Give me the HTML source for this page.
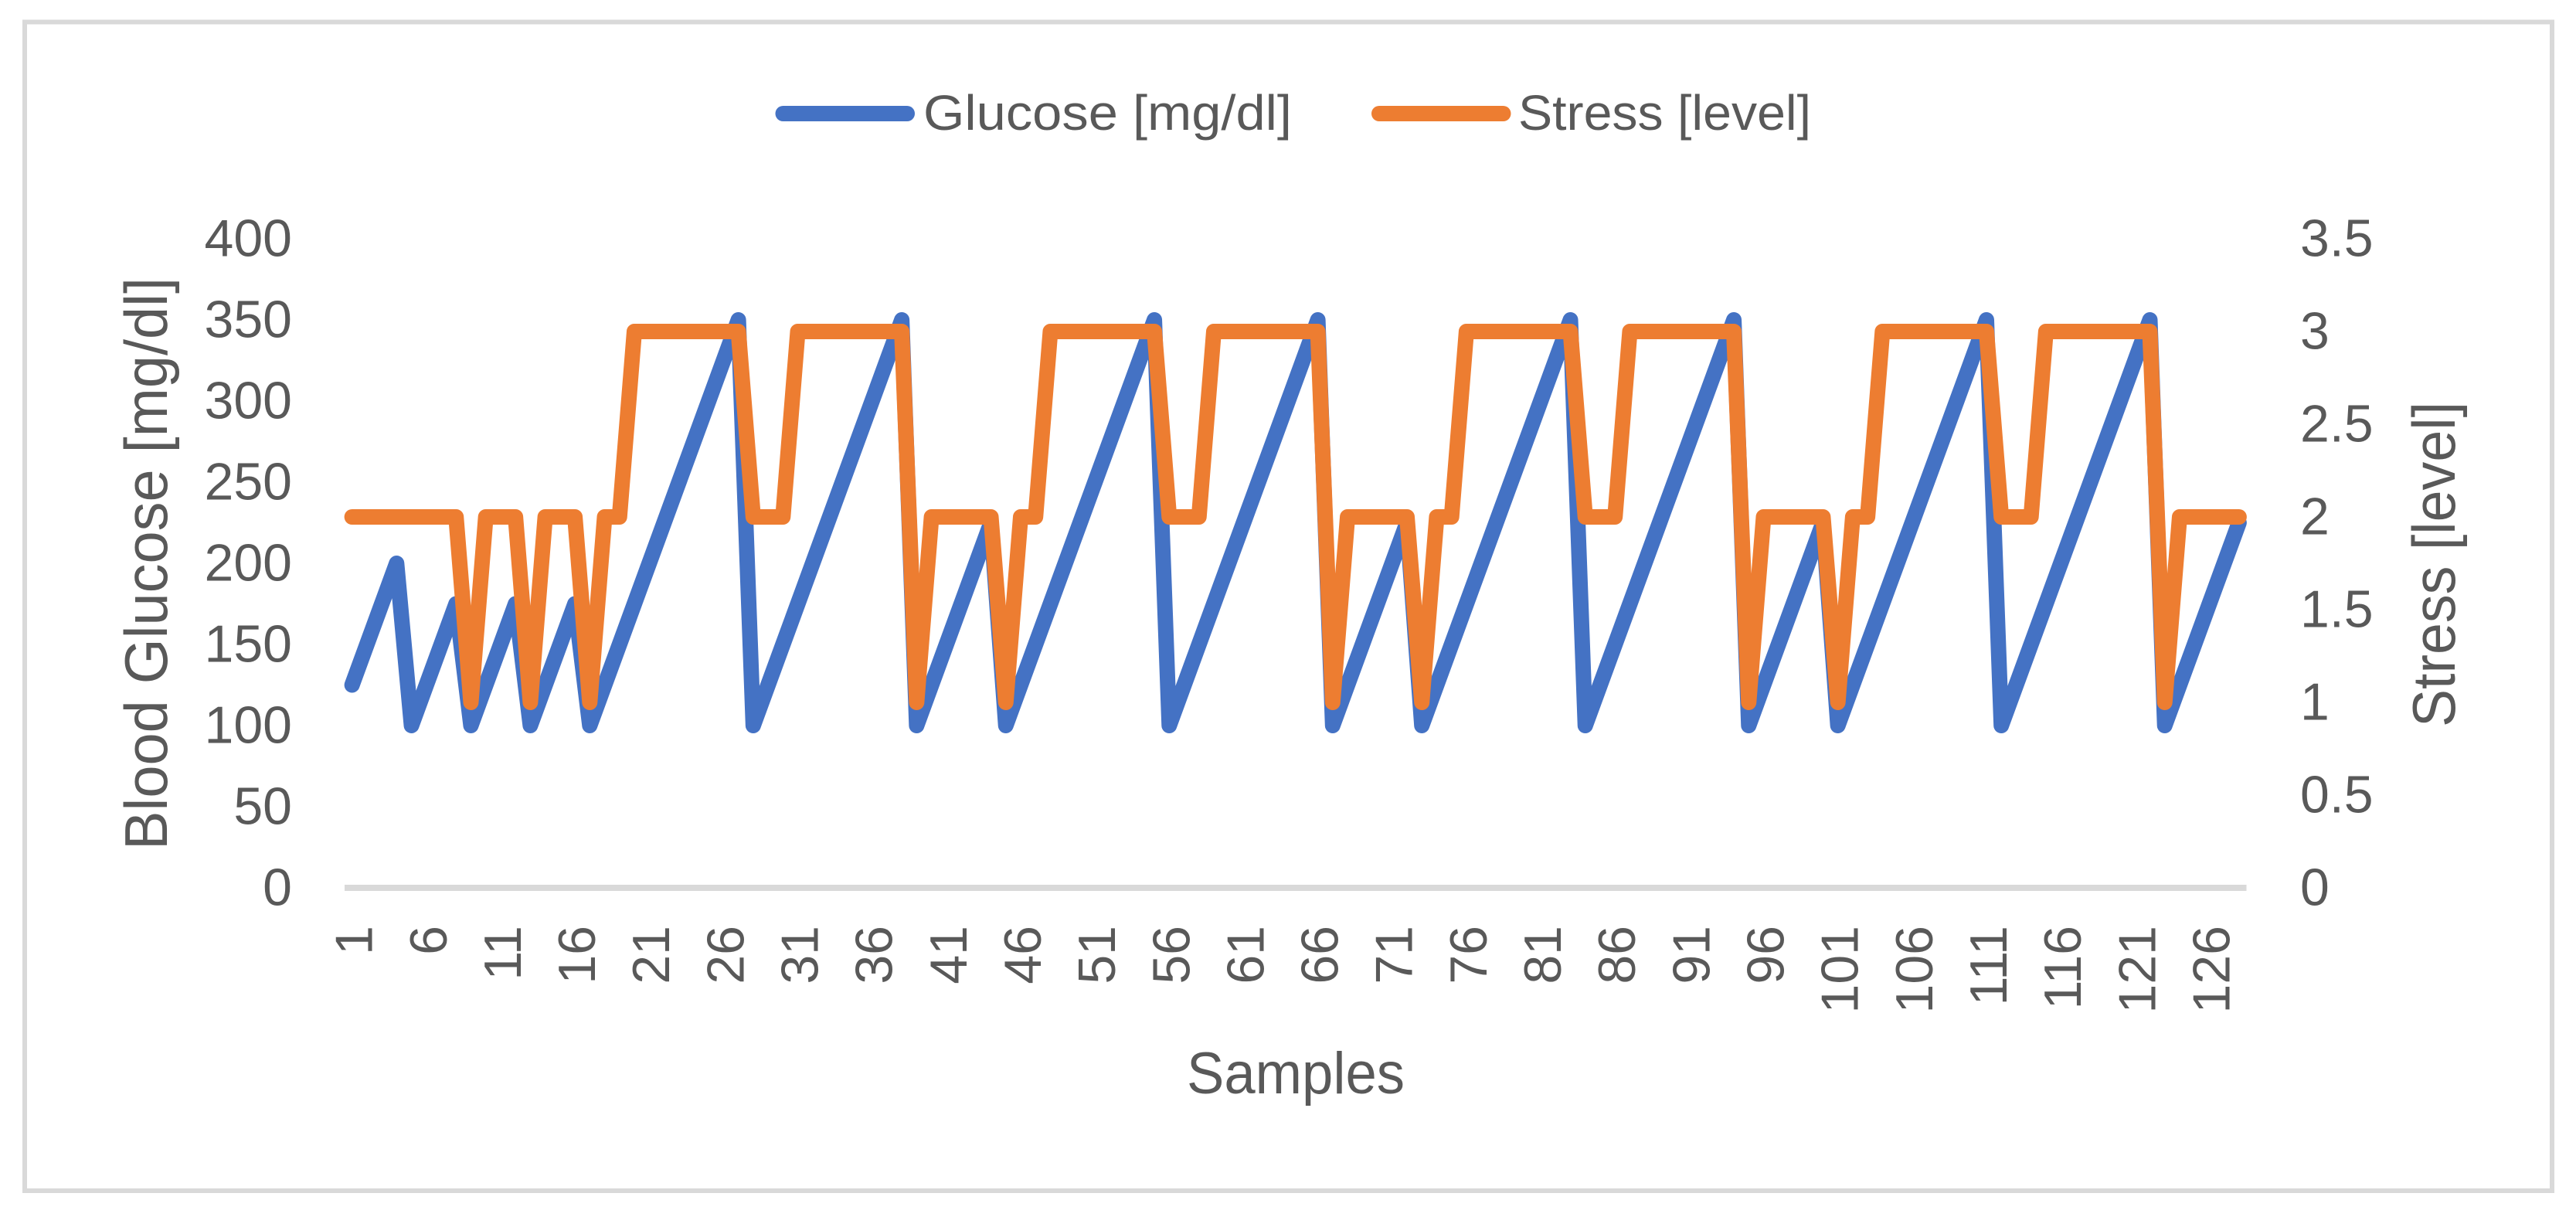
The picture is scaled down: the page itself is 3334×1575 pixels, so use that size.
<!DOCTYPE html>
<html lang="en">
<head>
<meta charset="utf-8">
<title>Glucose and Stress Chart</title>
<style>
  html, body { margin: 0; padding: 0; background: #fff; }
  svg { display: block; }
  text { font-family: "Liberation Sans", sans-serif; fill: #595959; }
</style>
</head>
<body>
<svg id="chart" xmlns="http://www.w3.org/2000/svg" width="3334" height="1575" viewBox="0 0 3334 1575">
  <rect x="0" y="0" width="3334" height="1575" fill="#ffffff"/>
  <rect x="32" y="28.5" width="3271" height="1512.5" fill="none" stroke="#d9d9d9" stroke-width="6"/>

  <g>
    <line x1="1013.5" y1="147" x2="1174" y2="147" stroke="#4472c4" stroke-width="20" stroke-linecap="round"/>
    <text x="1195" y="168" font-size="64" textLength="477" lengthAdjust="spacingAndGlyphs">Glucose [mg/dl]</text>
    <line x1="1785" y1="147" x2="1945.5" y2="147" stroke="#ed7d31" stroke-width="20" stroke-linecap="round"/>
    <text x="1965" y="168" font-size="64" textLength="379" lengthAdjust="spacingAndGlyphs">Stress [level]</text>
  </g>

  <g id="left-ticks"></g>
  <g id="right-ticks"></g>
  <g id="x-ticks"></g>

  <line x1="446" y1="1149" x2="2907.5" y2="1149" stroke="#d9d9d9" stroke-width="8"/>

  <polyline id="glucose-line" fill="none" stroke="#4472c4" stroke-width="20" stroke-linejoin="round" stroke-linecap="round"/>
  <polyline id="stress-line" fill="none" stroke="#ed7d31" stroke-width="20" stroke-linejoin="round" stroke-linecap="round"/>

  <text transform="translate(216 1100) rotate(-90)" x="0" y="0" font-size="78" textLength="741" lengthAdjust="spacingAndGlyphs">Blood Glucose [mg/dl]</text>
  <text transform="translate(3177 941) rotate(-90)" x="0" y="0" font-size="78" textLength="421" lengthAdjust="spacingAndGlyphs">Stress [level]</text>
  <text x="1536" y="1415" font-size="76" textLength="282" lengthAdjust="spacingAndGlyphs">Samples</text>
</svg>

<script>
const categories = [
  1,2,3,4,5,6,7,8,9,10,11,12,13,14,15,16,17,18,19,20,21,22,23,24,25,26,27,28,29,30,31,32,
  33,34,35,36,37,38,39,40,41,42,43,44,45,46,47,48,49,50,51,52,53,54,55,56,57,58,59,60,61,62,63,64,
  65,66,67,68,69,70,71,72,73,74,75,76,77,78,79,80,81,82,83,84,85,86,87,88,89,90,91,92,93,94,95,96,
  97,98,99,100,101,102,103,104,105,106,107,108,109,110,111,112,113,114,115,116,117,118,119,120,121,122,123,124,125,126,127,128
];
const glucoseValues = [
  125,150,175,200,
  100,125,150,175,
  100,125,150,175,
  100,125,150,175,
  100,125,150,175,200,225,250,275,300,325,350,
  100,125,150,175,200,225,250,275,300,325,350,
  100,125,150,175,200,225,
  100,125,150,175,200,225,250,275,300,325,350,
  100,125,150,175,200,225,250,275,300,325,350,
  100,125,150,175,200,225,
  100,125,150,175,200,225,250,275,300,325,350,
  100,125,150,175,200,225,250,275,300,325,350,
  100,125,150,175,200,225,
  100,125,150,175,200,225,250,275,300,325,350,
  100,125,150,175,200,225,250,275,300,325,350,
  100,125,150,175,200,225
];
const stressValues = [
  2,2,2,2,2,2,2,2,
  1,2,2,2,
  1,2,2,2,
  1,2,2,
  3,3,3,3,3,3,3,3,
  2,2,2,
  3,3,3,3,3,3,3,3,
  1,2,2,2,2,2,
  1,2,2,
  3,3,3,3,3,3,3,3,
  2,2,2,
  3,3,3,3,3,3,3,3,
  1,2,2,2,2,2,
  1,2,2,
  3,3,3,3,3,3,3,3,
  2,2,2,
  3,3,3,3,3,3,3,3,
  1,2,2,2,2,2,
  1,2,2,
  3,3,3,3,3,3,3,3,
  2,2,2,
  3,3,3,3,3,3,3,3,
  1,2,2,2,2,2
];
const leftTickLabels = [0,50,100,150,200,250,300,350,400];
const rightTickLabels = [0,0.5,1,1.5,2,2.5,3,3.5];
const xTickLabels = [1,6,11,16,21,26,31,36,41,46,51,56,61,66,71,76,81,86,91,96,101,106,111,116,121,126];

const SVG_NS = 'http://www.w3.org/2000/svg';
const plotLeft = 446, plotRight = 2907.5, plotBottom = 1149, plotTop = 309;
const leftMax = 400, rightMax = 3.5;

function xScale(category) {
  const idx = categories.indexOf(category);
  const step = (plotRight - plotLeft) / categories.length;
  return plotLeft + step * (idx + 0.5);
}
function yLeft(v) { return plotBottom - (v / leftMax) * (plotBottom - plotTop); }
function yRight(v) { return plotBottom - (v / rightMax) * (plotBottom - plotTop); }

document.getElementById('glucose-line').setAttribute('points',
  glucoseValues.map((v, i) => xScale(categories[i]).toFixed(2) + ',' + yLeft(v).toFixed(2)).join(' '));
document.getElementById('stress-line').setAttribute('points',
  stressValues.map((v, i) => xScale(categories[i]).toFixed(2) + ',' + yRight(v).toFixed(2)).join(' '));

const leftGroup = document.getElementById('left-ticks');
leftTickLabels.forEach(function (v) {
  const el = document.createElementNS(SVG_NS, 'text');
  
  
  el.setAttribute('x', 378);
  el.setAttribute('y', yLeft(v) + 22.5);
  el.setAttribute('font-size', 68);
  el.setAttribute('text-anchor', 'end');
  el.textContent = String(v);
  leftGroup.appendChild(el);
});

const rightGroup = document.getElementById('right-ticks');
rightTickLabels.forEach(function (v) {
  const el = document.createElementNS(SVG_NS, 'text');
  
  
  el.setAttribute('x', 2977);
  el.setAttribute('y', yRight(v) + 22.5);
  el.setAttribute('font-size', 68);
  el.textContent = String(v);
  rightGroup.appendChild(el);
});

const xGroup = document.getElementById('x-ticks');
xTickLabels.forEach(function (c) {
  const el = document.createElementNS(SVG_NS, 'text');
  
  
  el.setAttribute('transform', 'translate(' + (xScale(c) + 26) + ' 1198) rotate(-90)');
  el.setAttribute('x', 0);
  el.setAttribute('y', 0);
  el.setAttribute('font-size', 68);
  el.setAttribute('text-anchor', 'end');
  el.textContent = String(c);
  xGroup.appendChild(el);
});
</script>
</body>
</html>
